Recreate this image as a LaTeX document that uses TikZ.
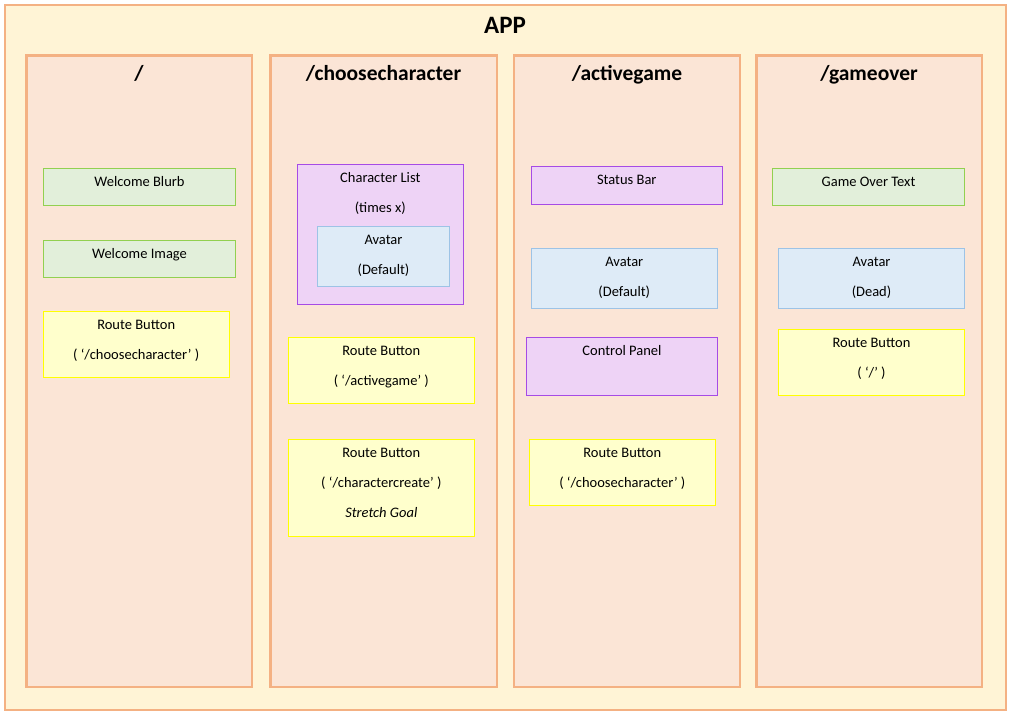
\documentclass[tikz,border=0pt]{standalone}
\usepackage{fontspec}
\setmainfont{Carlito}
\definecolor{appfill}{HTML}{FFF4D6}
\definecolor{orangeline}{HTML}{F4B183}
\definecolor{colfill}{HTML}{FBE5D6}
\definecolor{greenfill}{HTML}{E2EFDA}
\definecolor{greenline}{HTML}{92D050}
\definecolor{purplefill}{HTML}{EED3F6}
\definecolor{purpleline}{HTML}{A64BE6}
\definecolor{bluefill}{HTML}{DEEBF7}
\definecolor{blueline}{HTML}{9DC3E6}
\definecolor{yellowfill}{HTML}{FFFFCC}
\definecolor{yellowline}{HTML}{FFFF00}
\tikzset{
  appbox/.style={fill=appfill, draw=orangeline, line width=2.7pt},
  colbox/.style={fill=colfill, draw=orangeline, line width=2.7pt},
  greenbox/.style={fill=greenfill, draw=greenline, line width=1pt},
  purplebox/.style={fill=purplefill, draw=purpleline, line width=1pt},
  bluebox/.style={fill=bluefill, draw=blueline, line width=1pt},
  yellowbox/.style={fill=yellowfill, draw=yellowline, line width=1pt},
  txt/.style={anchor=base, inner sep=0pt, font=\fontsize{14.5}{17}\selectfont},
  coltitle/.style={anchor=base, inner sep=0pt, font=\fontsize{21.5}{24}\selectfont\bfseries},
  apptitle/.style={anchor=base, inner sep=0pt, font=\fontsize{25}{28}\selectfont\bfseries}
}
\begin{document}
\begin{tikzpicture}[x=1pt,y=-1pt]
\useasboundingbox (0,0) rectangle (1013,720);
% outer app box
\draw[appbox] (5,5) rectangle (1006,710);
\node[apptitle] (app) at (505,33.3) {APP};
% columns
\draw[colbox] (26.5,55.5) rectangle (252,687);
\draw[colbox] (270.5,55.5) rectangle (497,687);
\draw[colbox] (514,55.5) rectangle (740,687);
\draw[colbox] (756.5,55.5) rectangle (982,687);
\node[coltitle] (t1) at (139,80) {/};
\node[coltitle] (t2) at (383.5,80) {/choosecharacter};
\node[coltitle] (t3) at (627,80) {/activegame};
\node[coltitle] (t4) at (869,80) {/gameover};
% column 1
\draw[greenbox] (43.3,168.3) rectangle (235.7,205.3);
\node[txt] (wb) at (139.5,186.7) {Welcome Blurb};
\draw[greenbox] (43.3,240.3) rectangle (235.7,277.3);
\node[txt] (wi) at (139.5,258.7) {Welcome Image};
\draw[yellowbox] (43,311.7) rectangle (229.3,377.3);
\node[txt] (rb1a) at (136.2,329) {Route Button};
\node[txt] (rb1b) at (136.2,359) {( ‘/choosecharacter’ )};
% column 2
\draw[purplebox] (297.3,164.3) rectangle (463.3,304.3);
\node[txt] (cla) at (380.3,182.3) {Character List};
\node[txt] (clb) at (380.3,212.3) {(times x)};
\draw[bluebox] (317.3,226.3) rectangle (449.7,286.3);
\node[txt] (av2a) at (383.5,244.3) {Avatar};
\node[txt] (av2b) at (383.5,274.3) {(Default)};
\draw[yellowbox] (288.3,337.3) rectangle (474.3,403.3);
\node[txt] (rb2a) at (381.3,355) {Route Button};
\node[txt] (rb2b) at (381.3,385) {( ‘/activegame’ )};
\draw[yellowbox] (288.3,439.3) rectangle (474.3,536.7);
\node[txt] (rb3a) at (381.3,457) {Route Button};
\node[txt] (rb3b) at (381.3,487) {( ‘/charactercreate’ )};
\node[txt, font=\fontsize{14.5}{17}\selectfont\itshape] (rb3c) at (381.3,517) {Stretch Goal};
% column 3
\draw[purplebox] (531,166) rectangle (722.7,204.3);
\node[txt] (sb) at (626.8,184.3) {Status Bar};
\draw[bluebox] (531,248.3) rectangle (717.7,308.3);
\node[txt] (av3a) at (624.3,266) {Avatar};
\node[txt] (av3b) at (624.3,296) {(Default)};
\draw[purplebox] (526.3,337.3) rectangle (717.7,395.7);
\node[txt] (cp) at (622,355) {Control Panel};
\draw[yellowbox] (529.3,439.3) rectangle (715.3,505.3);
\node[txt] (rb4a) at (622.3,457) {Route Button};
\node[txt] (rb4b) at (622.3,487) {( ‘/choosecharacter’ )};
% column 4
\draw[greenbox] (772.3,168.3) rectangle (964.7,205.3);
\node[txt] (got) at (868.5,186) {Game Over Text};
\draw[bluebox] (778.3,248.3) rectangle (964.7,308.3);
\node[txt] (av4a) at (871.5,266) {Avatar};
\node[txt] (av4b) at (871.5,296) {(Dead)};
\draw[yellowbox] (778.3,329.3) rectangle (964.7,395);
\node[txt] (rb5a) at (871.5,347) {Route Button};
\node[txt] (rb5b) at (871.5,377) {( ‘/’ )};
\end{tikzpicture}
\end{document}
